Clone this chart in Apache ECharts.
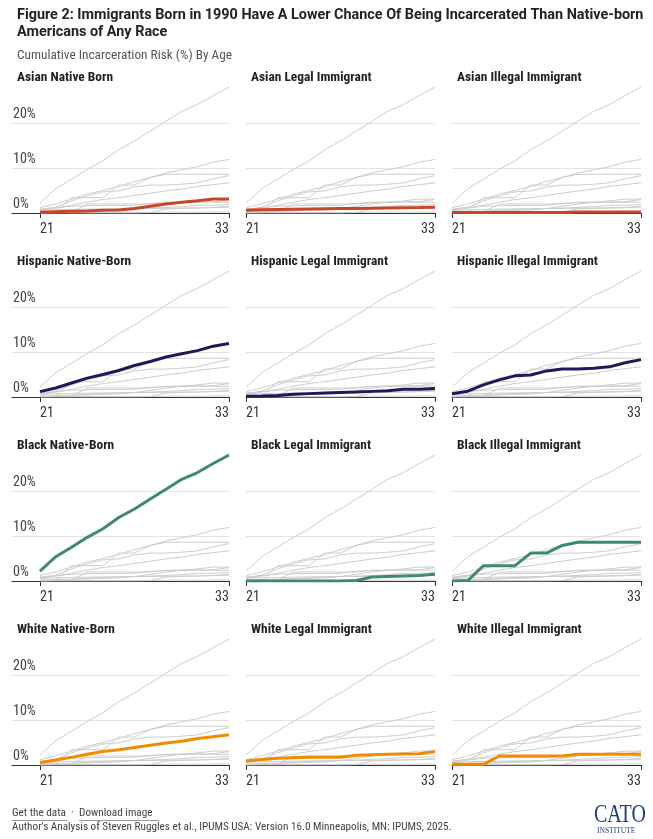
<!DOCTYPE html>
<html>
<head>
<meta charset="utf-8">
<script src="https://cdn.jsdelivr.net/npm/echarts@6/dist/echarts.min.js"></script>
<style>
  html, body { margin: 0; padding: 0; background: #fff; }
  #chart { width: 653px; height: 839px; }
</style>
</head>
<body>
<div id="chart"></div>
<script>
// ages on the x axis
const ages = [21, 22, 23, 24, 25, 26, 27, 28, 29, 30, 31, 32, 33];

// cumulative incarceration risk (%) by age
const asianNative     = [0.15, 0.3, 0.4, 0.45, 0.6, 0.65, 1.0, 1.5, 2.0, 2.4, 2.7, 3.1, 3.1];
const asianLegal      = [0.6, 0.7, 0.8, 0.85, 0.9, 0.95, 1.0, 1.0, 1.05, 1.1, 1.15, 1.2, 1.3];
const asianIllegal    = [0.1, 0.1, 0.1, 0.1, 0.1, 0.1, 0.1, 0.1, 0.2, 0.2, 0.2, 0.2, 0.2];
const hispanicNative  = [1.2, 2.0, 3.1, 4.2, 5.0, 5.9, 7.0, 7.9, 8.9, 9.6, 10.3, 11.3, 11.9];
const hispanicLegal   = [0.15, 0.2, 0.35, 0.6, 0.75, 0.9, 1.0, 1.1, 1.25, 1.4, 1.7, 1.7, 1.9];
const hispanicIllegal = [0.7, 1.3, 2.7, 3.8, 4.7, 4.9, 5.8, 6.2, 6.2, 6.4, 6.7, 7.6, 8.3];
const blackNative     = [2.2, 5.4, 7.5, 9.7, 11.6, 14.1, 16.0, 18.2, 20.4, 22.6, 24.1, 26.1, 28.0];
const blackLegal      = [0, 0, 0, 0, 0, 0, 0, 0.1, 0.9, 1.0, 1.1, 1.2, 1.5];
const blackIllegal    = [0, 0.1, 3.4, 3.4, 3.4, 6.2, 6.2, 7.9, 8.6, 8.6, 8.6, 8.6, 8.6];
const whiteNative     = [0.5, 1.1, 1.7, 2.4, 3.0, 3.4, 3.9, 4.4, 4.9, 5.3, 5.9, 6.3, 6.7];
const whiteLegal      = [0.9, 1.2, 1.5, 1.6, 1.7, 1.7, 1.7, 2.15, 2.3, 2.4, 2.45, 2.5, 3.0];
const whiteIllegal    = [0.15, 0.15, 0.15, 2.0, 2.0, 2.0, 2.0, 2.0, 2.4, 2.4, 2.4, 2.4, 2.4];

const panelNames = [
  'Asian Native Born', 'Asian Legal Immigrant', 'Asian Illegal Immigrant',
  'Hispanic Native-Born', 'Hispanic Legal Immigrant', 'Hispanic Illegal Immigrant',
  'Black Native-Born', 'Black Legal Immigrant', 'Black Illegal Immigrant',
  'White Native-Born', 'White Legal Immigrant', 'White Illegal Immigrant'
];
const panelData = [
  asianNative, asianLegal, asianIllegal,
  hispanicNative, hispanicLegal, hispanicIllegal,
  blackNative, blackLegal, blackIllegal,
  whiteNative, whiteLegal, whiteIllegal
];
const raceColors = ['#c9452a', '#1b1b5c', '#3f8a6c', '#f08c00'];
const yTicks = [0, 10, 20];

const FONT = '"Liberation Sans Narrow", "Roboto Condensed", Roboto, sans-serif';
const WIDE = 'Roboto, "Liberation Sans", sans-serif';
const SERIF = '"Liberation Serif", "DejaVu Serif", serif';
const chart = echarts.init(document.getElementById('chart'), null, { renderer: 'canvas' });

const baselines = [213, 397, 581, 765];
const colLeft = [12, 246, 452];
const colWidth = [217, 189, 189];
const colXMin = [21 - 28 / 15.75, 21, 21];

const grids = [], xAxes = [], yAxes = [], series = [];
const titles = [
  {
    text: 'Figure 2: Immigrants Born in 1990 Have A Lower Chance Of Being Incarcerated Than Native-born\nAmericans of Any Race',
    left: 12, top: 2,
    textStyle: { fontFamily: WIDE, fontSize: 14.4, fontWeight: 'bold', color: '#222', lineHeight: 17 }
  },
  {
    text: 'Cumulative Incarceration Risk (%) By Age',
    left: 12, top: 44,
    textStyle: { fontFamily: FONT, fontSize: 13.3, fontWeight: 'normal', color: '#555' }
  }
];

panelNames.forEach((name, p) => {
  const row = Math.floor(p / 3), col = p % 3;
  const base = baselines[row];
  grids.push({ left: colLeft[col], width: colWidth[col], top: base - 135, height: 135 });
  titles.push({
    text: name, left: colLeft[col], top: base - 147,
    textStyle: { fontFamily: FONT, fontSize: 13.4, fontWeight: 'bold', color: '#222' }
  });
  xAxes.push({
    gridIndex: p, type: 'value', min: colXMin[col], max: 33,
    axisLine: { show: true, onZero: false, lineStyle: { color: '#333', width: 1 } },
    axisTick: { show: true, customValues: [21, 33], length: 5, lineStyle: { color: '#333' } },
    axisLabel: {
      customValues: [21, 33], margin: 9,
      formatter: v => (v === 21 ? '{l|21}' : '{r|33}'),
      rich: {
        l: { fontFamily: FONT, fontSize: 14, color: '#333', padding: [0, 0, 0, 14] },
        r: { fontFamily: FONT, fontSize: 14, color: '#333', padding: [0, 14, 0, 0] }
      }
    },
    splitLine: { show: false }
  });
  yAxes.push({
    gridIndex: p, type: 'value', min: 0, max: 30, interval: 10,
    axisLine: { show: false }, axisTick: { show: false },
    axisLabel: {
      show: col === 0, inside: true, margin: 1, verticalAlign: 'bottom',
      padding: [0, 0, 2, 0], showMaxLabel: false,
      fontFamily: FONT, fontSize: 14, color: '#444',
      formatter: v => (yTicks.indexOf(v) >= 0 ? v + '%' : '')
    },
    splitLine: { show: true, showMaxLine: false, showMinLine: false, lineStyle: { color: '#e3e3e3', width: 1 } }
  });
  panelData.forEach((vals, s) => {
    series.push({
      type: 'line', xAxisIndex: p, yAxisIndex: p, silent: true, z: 2,
      symbol: 'none', animation: false,
      lineStyle: { color: '#cdcdcd', width: 1 },
      data: ages.map((a, i) => [a, vals[i]])
    });
  });
  series.push({
    type: 'line', xAxisIndex: p, yAxisIndex: p, silent: true, z: 5,
    symbol: 'none', animation: false,
    lineStyle: { color: raceColors[row], width: 3 },
    data: ages.map((a, i) => [a, panelData[p][i]])
  });
});

chart.setOption({
  animation: false,
  title: titles,
  grid: grids,
  xAxis: xAxes,
  yAxis: yAxes,
  series: series,
  graphic: [
    { type: 'text', left: 12, top: 808, style: { text: 'Get the data', fontFamily: FONT, fontSize: 11.2, fill: '#444' } },
    { type: 'line', shape: { x1: 12, y1: 820.5, x2: 67, y2: 820.5 }, style: { stroke: '#999', lineWidth: 1 } },
    { type: 'text', left: 71, top: 808, style: { text: '\u00b7', fontFamily: FONT, fontSize: 11.2, fill: '#444' } },
    { type: 'text', left: 79, top: 808, style: { text: 'Download image', fontFamily: FONT, fontSize: 11.2, fill: '#444' } },
    { type: 'line', shape: { x1: 79, y1: 820.5, x2: 159, y2: 820.5 }, style: { stroke: '#999', lineWidth: 1 } },
    { type: 'text', left: 12, top: 822, style: { text: "Author's Analysis of Steven Ruggles et al., IPUMS USA: Version 16.0 Minneapolis, MN: IPUMS, 2025.", fontFamily: FONT, fontSize: 11.2, fill: '#444' } },
    { type: 'text', left: 594, top: 803, scaleY: 1.25, style: { text: 'CATO', fontFamily: SERIF, fontSize: 20, fill: '#1f3f7a' } },
    { type: 'text', left: 597, top: 827, style: { text: 'INSTITUTE', fontFamily: SERIF, fontSize: 7.5, fill: '#1f3f7a' } }
  ]
});
</script>
</body>
</html>
